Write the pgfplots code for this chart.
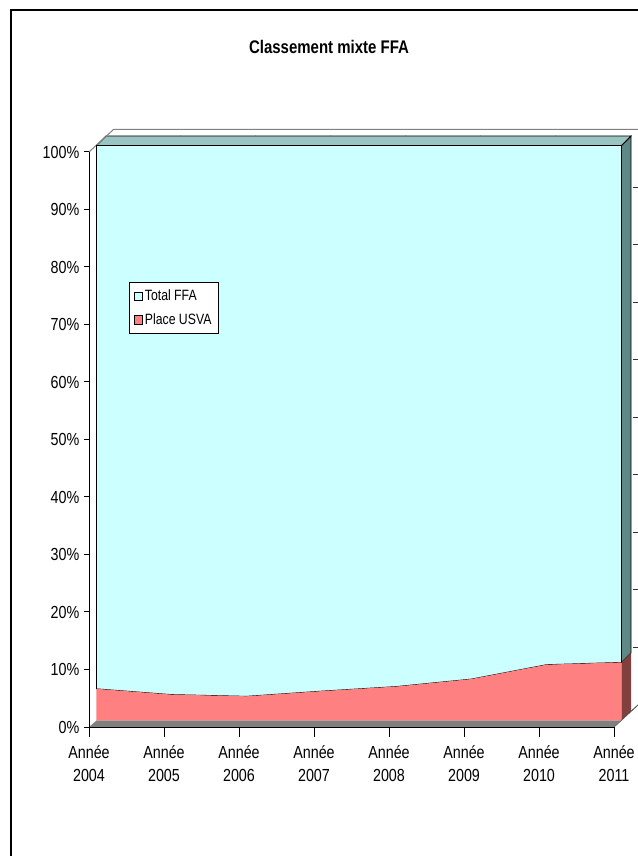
\documentclass[border=0pt]{standalone}
\usepackage{fontspec}
\setmainfont{Liberation Sans}[FakeStretch=0.82]
\usepackage{pgfplots}
\pgfplotsset{compat=1.18}

\definecolor{ffa}{HTML}{CCFFFF}
\definecolor{usva}{HTML}{FF8080}
\definecolor{ffatop}{HTML}{9AC4C1}
\definecolor{ffaside}{HTML}{5F8986}
\definecolor{usvaside}{HTML}{804040}
\definecolor{floorgray}{HTML}{808080}

% 3D offsets: front of series, back of series, back wall
\tikzset{
  fr/.style={shift={(5.6pt,4.9pt)}},
  bk/.style={shift={(12.75pt,12pt)}},
  bx/.style={shift={(18.4pt,16.9pt)}},
}

\begin{document}
\begin{tikzpicture}[x=1pt,y=1pt]
\path[use as bounding box] (0,0) rectangle (477.75,642);
\draw[line width=1.1pt] (8.25,-2) -- (8.25,634.5) -- (480,634.5);
\node[font=\bfseries\fontsize{13.7}{16}\selectfont] at (246.75,606.75) {Classement mixte FFA};

\begin{axis}[
  at={(66.75pt,96.75pt)}, anchor=south west,
  scale only axis, width=393.75pt, height=431.25pt,
  xmin=0, xmax=7, ymin=0, ymax=100,
  axis x line*=bottom, axis y line*=left,
  axis line style={line width=0.75pt, -},
  axis on top,
  clip=false,
  tick align=outside,
  major tick length=3.75pt,
  tick style={line width=0.75pt, black},
  xtick={0,...,7},
  xticklabels={Année\\2004,Année\\2005,Année\\2006,Année\\2007,Année\\2008,Année\\2009,Année\\2010,Année\\2011},
  xticklabel style={align=center, yshift=-6.5pt},
  ytick={0,10,...,100},
  yticklabel={\pgfmathprintnumber{\tick}\%},
  ticklabel style={font=\fontsize{13.1}{17.3}\selectfont},
  /pgf/number format/assume math mode=true,
  stack plots=y,
  legend image code/.code={\draw[#1,draw=black,line width=0.6pt] (0.5pt,-3.2pt) rectangle (6pt,3.2pt);},
  legend style={at={(0.0762,0.774)}, anchor=north west, draw=black, line width=0.75pt,
    fill=white, font=\fontsize{11.2}{13}\selectfont, inner xsep=3.5pt, inner ysep=3.5pt,
    row sep=4pt, cells={anchor=west}},
]
% data: share of each series in percent
\addplot[fill=usva, draw=none, forget plot, xshift=5.6pt, yshift=4.9pt] coordinates {
  (0,5.5) (1,4.5) (2,4.2) (3,5.1) (4,5.9) (5,7.2) (6,9.7) (7,10.1)
} \closedcycle;
\addplot[fill=ffa, draw=black, line width=0.6pt, forget plot, xshift=5.6pt, yshift=4.9pt] coordinates {
  (0,94.5) (1,95.5) (2,95.8) (3,94.9) (4,94.1) (5,92.8) (6,90.3) (7,89.9)
} \closedcycle;

% floor strip in front of the series, back wall edges
\fill[floorgray] (axis cs:0,0) -- (axis cs:7,0) -- ([bx]axis cs:7,0) -- ([fr]axis cs:7,0) -- ([fr]axis cs:0,0) -- cycle;
\draw[black!80, line width=0.6pt] (axis cs:7,0) -- ([bx]axis cs:7,0);
\draw[gray, line width=0.75pt] (axis cs:0,100) -- ([bx]axis cs:0,100) -- ([bx]axis cs:7.2,100);
\pgfplotsinvokeforeach{10,20,...,90}{
  \draw[black!80, line width=0.6pt] ([shift={(-4.5pt,0pt)}, bx]axis cs:7,#1) -- ([bx]axis cs:7,#1);
}
\pgfplotsinvokeforeach{0,...,7}{
  \draw[black, line width=0.75pt] (axis cs:#1,0) -- ++(0,-7.5pt);
}

% top face and side face of the series
\filldraw[fill=ffatop, draw=black, line width=0.6pt] ([fr]axis cs:0,100) -- ([fr]axis cs:7,100) -- ([bk]axis cs:7,100) -- ([bk]axis cs:0,100) -- cycle;
\pgfplotsinvokeforeach{1,...,6}{
  \draw[black, line width=0.6pt] ([fr]axis cs:#1,100) -- ([bk]axis cs:#1,100);
}
\fill[usvaside] ([fr]axis cs:7,0) -- ([fr]axis cs:7,10.1) -- ([bk]axis cs:7,10.1) -- ([bk]axis cs:7,0) -- cycle;
\filldraw[fill=ffaside, draw=black, line width=0.6pt] ([fr]axis cs:7,10.1) -- ([fr]axis cs:7,100) -- ([bk]axis cs:7,100) -- ([bk]axis cs:7,10.1) -- cycle;

\addlegendimage{fill=ffa}
\addlegendentry{Total FFA}
\addlegendimage{fill=usva}
\addlegendentry{Place USVA}
\end{axis}
\end{tikzpicture}
\end{document}
